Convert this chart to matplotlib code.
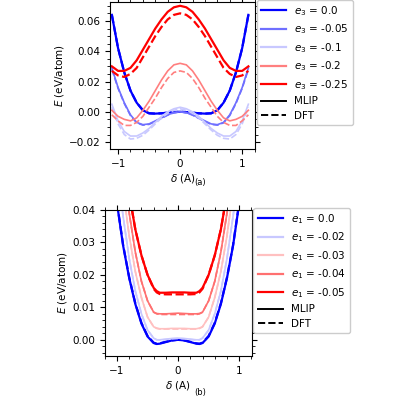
import numpy as np
import matplotlib.pyplot as plt
from matplotlib.lines import Line2D

half_a = [0.0, 0.1, 0.2, 0.3, 0.4, 0.5, 0.6, 0.7, 0.8, 0.9, 1.0, 1.1]
e3_labels = ["0.0", "-0.05", "-0.1", "-0.2", "-0.25"]
e3_colors = ["#0000ff", "#6f6fff", "#c8c8ff", "#ff7f7f", "#ff0000"]
e3_mlip = [
    [0.0, -0.0002, -0.0006, -0.001, -0.0012, -0.001, 0.001, 0.006, 0.014, 0.026, 0.042, 0.064],
    [0.0, -0.0005, -0.002, -0.004, -0.006, -0.008, -0.0085, -0.007, -0.002, 0.006, 0.016, 0.029],
    [0.003, 0.002, 0.0, -0.003, -0.007, -0.011, -0.014, -0.016, -0.016, -0.013, -0.006, 0.005],
    [0.032, 0.031, 0.027, 0.021, 0.014, 0.007, 0.001, -0.004, -0.006, -0.005, -0.003, 0.001],
    [0.070, 0.069, 0.066, 0.061, 0.055, 0.048, 0.041, 0.034, 0.029, 0.027, 0.027, 0.030],
]
e3_dft = [
    [0.0, -0.0002, -0.0006, -0.001, -0.0012, -0.001, 0.001, 0.006, 0.014, 0.026, 0.042, 0.064],
    [0.0, -0.0006, -0.0022, -0.0043, -0.0064, -0.0083, -0.0088, -0.0073, -0.0025, 0.0055, 0.0155, 0.028],
    [0.002, 0.001, -0.001, -0.004, -0.008, -0.012, -0.0155, -0.0175, -0.018, -0.015, -0.008, 0.003],
    [0.027, 0.026, 0.022, 0.016, 0.009, 0.003, -0.003, -0.007, -0.009, -0.009, -0.006, -0.002],
    [0.065, 0.064, 0.061, 0.056, 0.050, 0.043, 0.036, 0.029, 0.025, 0.023, 0.024, 0.027],
]

half_b = [0.0, 0.1, 0.2, 0.3, 0.35, 0.4, 0.5, 0.6, 0.7, 0.8, 0.9, 1.0]
e1_labels = ["0.0", "-0.02", "-0.03", "-0.04", "-0.05"]
e1_colors = ["#0000ff", "#c8c8ff", "#ffc0c0", "#ff7070", "#ff0000"]
e1_mlip = [
    [0.0, -0.0002, -0.0007, -0.0012, -0.0013, -0.001, 0.001, 0.005, 0.011, 0.019, 0.029, 0.042],
    [0.0005, 0.0004, 0.0002, 0.0, 0.0, 0.0005, 0.003, 0.008, 0.015, 0.025, 0.038, 0.053],
    [0.0035, 0.0035, 0.0034, 0.0034, 0.0036, 0.004, 0.007, 0.013, 0.021, 0.032, 0.046, 0.062],
    [0.0082, 0.0081, 0.008, 0.008, 0.0081, 0.0085, 0.012, 0.018, 0.027, 0.039, 0.053, 0.070],
    [0.0146, 0.0146, 0.0145, 0.0145, 0.015, 0.016, 0.020, 0.026, 0.034, 0.045, 0.059, 0.076],
]
e1_dft = [
    [0.0, -0.0002, -0.0006, -0.0011, -0.0012, -0.0009, 0.0012, 0.0052, 0.0112, 0.0192, 0.0292, 0.0422],
    [0.0004, 0.0003, 0.0001, -0.0001, 0.0, 0.0005, 0.003, 0.008, 0.015, 0.025, 0.038, 0.053],
    [0.0033, 0.0033, 0.0033, 0.0033, 0.0035, 0.004, 0.007, 0.013, 0.021, 0.032, 0.046, 0.062],
    [0.0078, 0.0078, 0.0078, 0.0078, 0.008, 0.0085, 0.012, 0.018, 0.027, 0.039, 0.053, 0.070],
    [0.0140, 0.0140, 0.0140, 0.0141, 0.0146, 0.0157, 0.020, 0.026, 0.034, 0.045, 0.059, 0.076],
]

def mirror(h, v):
    h = np.asarray(h); v = np.asarray(v)
    return np.concatenate([-h[::-1], h[1:]]), np.concatenate([v[::-1], v[1:]])

plt.rcParams['font.size'] = 7.5
fig = plt.figure(figsize=(4, 4), dpi=100)
axa = fig.add_axes([0.275, 0.627, 0.363, 0.368])
axb = fig.add_axes([0.262, 0.11, 0.368, 0.365])

def panel(ax, half, mlip, dft, labels, colors, sym):
    for m, d, c, l in zip(mlip, dft, colors, labels):
        lw = 1.6 if c in ("#0000ff", "#ff0000") else 1.2
        x, y = mirror(half, m)
        ax.plot(x, y, color=c, lw=lw)
        x, y = mirror(half, d)
        ax.plot(x, y, color=c, lw=lw, ls="--")
    handles = [Line2D([], [], color=c, lw=1.6) for c in colors]
    names = [f"${sym}$ = {l}" for l in labels]
    handles += [Line2D([], [], color='k', lw=1.4), Line2D([], [], color='k', lw=1.4, ls='--')]
    names += ["MLIP", "DFT"]
    ax.legend(handles, names, loc='upper left', bbox_to_anchor=(1.01, 1.015),
              fontsize=7.5, framealpha=1, handlelength=2.4, borderaxespad=0,
              labelspacing=0.45)
    ax.set_xlabel(r"$\delta$ (A)", labelpad=2)
    ax.set_ylabel(r"$E$ (eV/atom)", labelpad=2)
    ax.minorticks_on()
    ax.tick_params(which='both', top=True, right=True)

panel(axa, half_a, e3_mlip, e3_dft, e3_labels, e3_colors, 'e_3')
axa.set_xlim(-1.13, 1.21)
axa.set_ylim(-0.0247, 0.0725)
axa.set_yticks([-0.02, 0.0, 0.02, 0.04, 0.06])

panel(axb, half_b, e1_mlip, e1_dft, e1_labels, e1_colors, 'e_1')
axb.set_xlim(-1.2, 1.21)
axb.set_ylim(-0.005, 0.04)
axb.set_yticks([0.0, 0.01, 0.02, 0.03, 0.04])

fig.text(0.5, 0.5425, "(a)", ha='center', va='center', fontsize=6)
fig.text(0.5, 0.0175, "(b)", ha='center', va='center', fontsize=6)

fig.savefig("out.png", dpi=100)
